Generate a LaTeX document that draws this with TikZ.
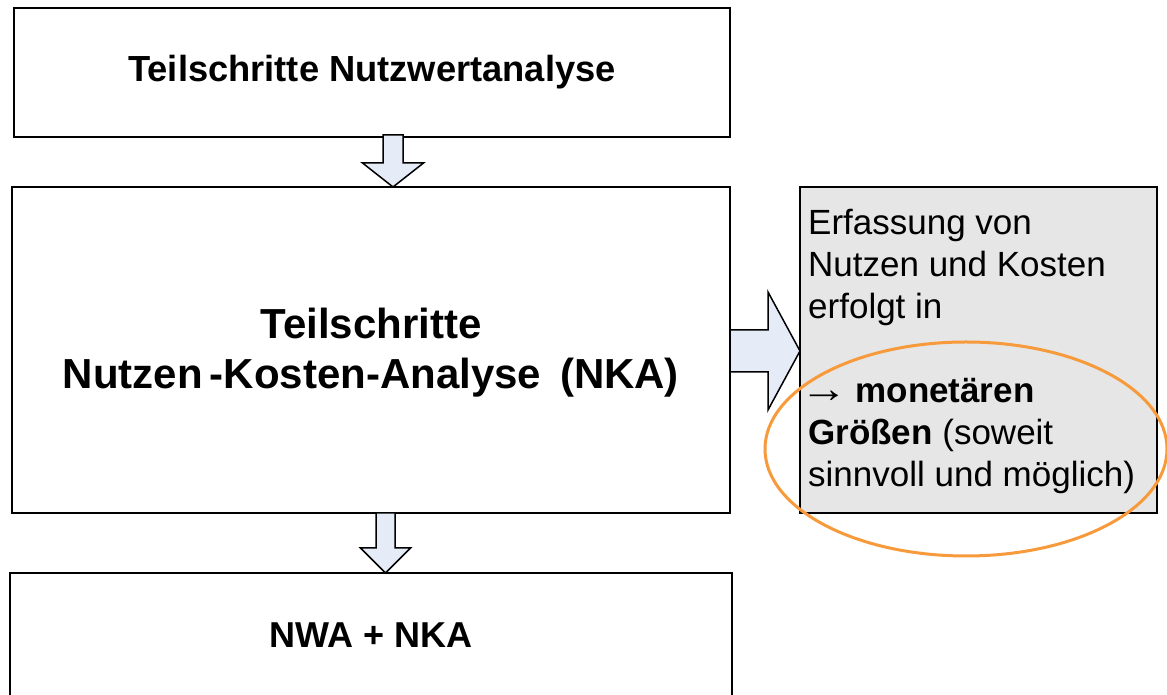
\documentclass[tikz,border=0pt]{standalone}
\usepackage{fontspec}
\usepackage{graphicx}
\setmainfont{Liberation Sans}
\usetikzlibrary{calc}

\definecolor{notefill}{HTML}{E6E6E6}
\definecolor{arrowfill}{HTML}{E6ECF7}
\definecolor{markorange}{HTML}{F79A3B}

% Block arrow from tail #1 to tip #2:
% #3 shaft half width, #4 head half width, #5 head length
\newcommand\blockarrow[5]{%
  \draw[blockarr]
    ($(#1)!#3!90:(#2)$)
    -- ($(#2)!#5!(#1)!#3!-90:(#1)$)
    -- ($(#2)!#5!(#1)!#4!-90:(#1)$)
    -- (#2)
    -- ($(#2)!#5!(#1)!#4!90:(#1)$)
    -- ($(#2)!#5!(#1)!#3!90:(#1)$)
    -- ($(#1)!#3!-90:(#2)$)
    -- cycle;}

\begin{document}
\begin{tikzpicture}[x=1pt,y=1pt,
  stepbox/.style={draw=black, line width=2pt, fill=white, outer sep=0pt,
    inner sep=0pt, font=\bfseries},
  notebox/.style={draw=black, line width=2pt, fill=notefill, outer sep=0pt,
    inner sep=0pt},
  blockarr/.style={draw=black, line width=1.5pt, fill=arrowfill, line join=miter},
  highlight/.style={draw=markorange, line width=3pt}]
  \useasboundingbox (0,0) rectangle (1167,695);
  \clip (0,0) rectangle (1167,695);

  % process steps
  \node[stepbox, minimum width=716pt, minimum height=129pt,
        font=\bfseries\fontsize{36.3}{42}\selectfont]
    (nwa) at (372,622.5) {Teilschritte Nutzwertanalyse};
  \node[stepbox, minimum width=718pt, minimum height=326pt]
    (nka) at (371,345) {};
  \node[align=center, inner sep=0pt, font=\bfseries\fontsize{42}{50}\selectfont]
    (nkatext) at ($(nka.center)+(0,-3)$) {Teilschritte\\Nutzen\,-Kosten-Analyse\ \,(NKA)};
  \node[stepbox, minimum width=722pt, minimum height=124pt,
        font=\bfseries\fontsize{36}{42}\selectfont]
    (both) at (371,60) {NWA + NKA};

  % side note
  \node[notebox, minimum width=357pt, minimum height=326pt] (note) at (978.5,345) {};
  \node[anchor=base west, inner sep=0pt, align=left,
        font=\fontsize{35}{42}\selectfont] (notetext) at (808,208)
    {Erfassung von\\Nutzen und Kosten\\erfolgt in\\[42pt]%
     \kern-8pt\scalebox{1.36}[1.15]{→}\kern-2pt\ \textbf{monetären}\\\textbf{Größen} (soweit\\sinnvoll und möglich)};

  % connectors
  \coordinate (t1) at ($(nwa.south)+(21,2)$);
  \coordinate (h1) at (t1 |- nka.north);
  \blockarrow{t1}{h1}{10pt}{30.5pt}{24pt}

  \coordinate (t2) at ($(nka.south)+(14.5,0)$);
  \coordinate (h2) at (t2 |- both.north);
  \blockarrow{t2}{h2}{9.5pt}{25pt}{25pt}

  \coordinate (t3) at ($(nka.east)+(0,-1)$);
  \coordinate (h3) at (t3 -| note.west);
  \blockarrow{t3}{h3}{21pt}{59pt}{32pt}

  % highlight of the result
  \draw[highlight] (966,246) ellipse [x radius=201pt, y radius=107pt];
\end{tikzpicture}
\end{document}
